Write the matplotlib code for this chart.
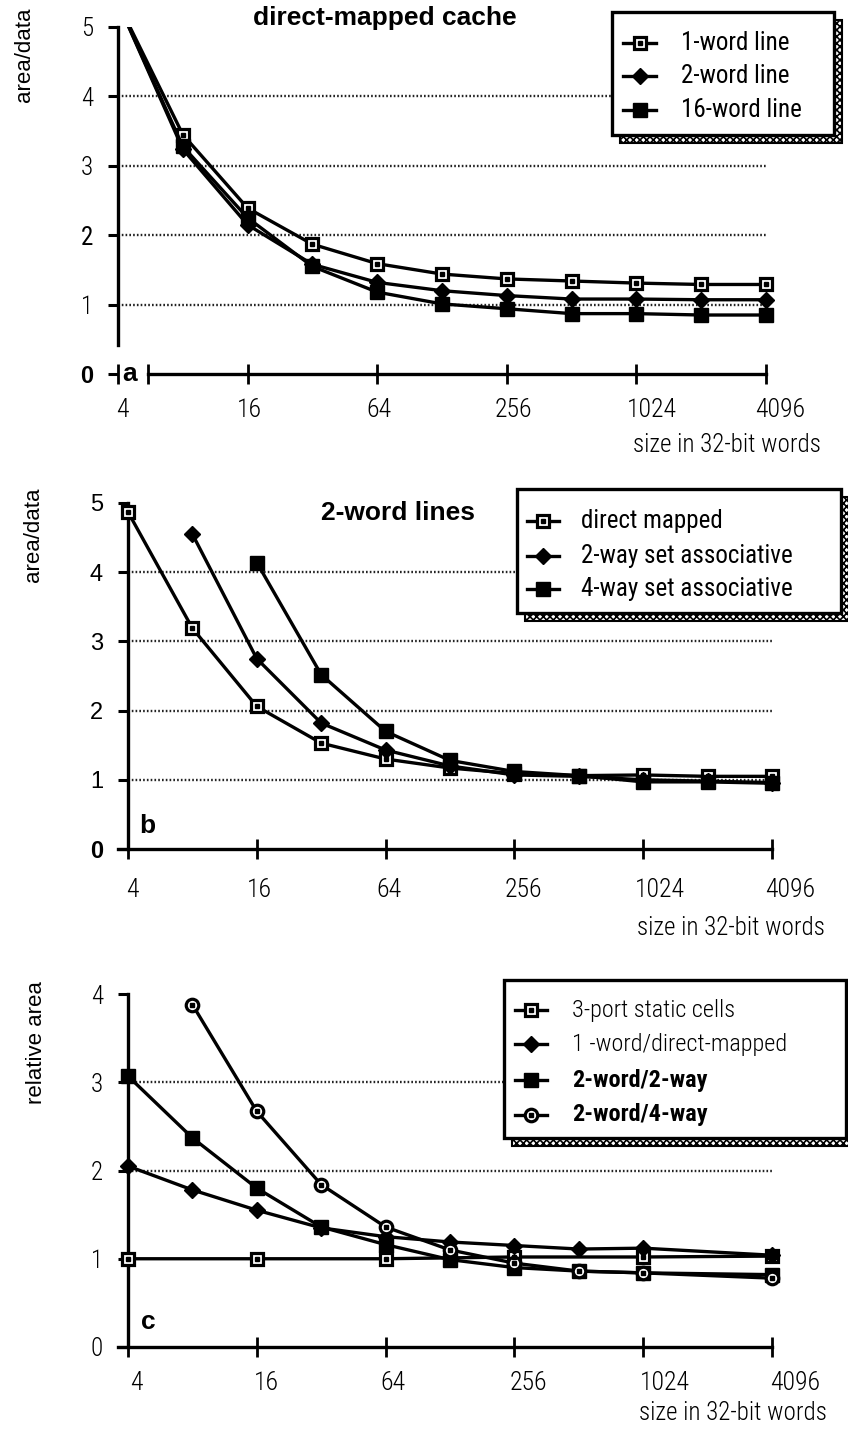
import matplotlib
matplotlib.use("Agg")
import matplotlib.pyplot as plt
from matplotlib.lines import Line2D
from matplotlib.patches import Rectangle

W, H = 848, 1433
plt.rcParams['hatch.linewidth'] = 1.2

SANS = ['Liberation Sans', 'DejaVu Sans']
COND = ['Roboto Condensed', 'Liberation Sans', 'DejaVu Sans']

# ---------------- data ----------------
x_ticks = [4, 16, 64, 256, 1024, 4096]
x_tick_labels = ['4', '16', '64', '256', '1024', '4096']

# panel a: direct-mapped cache
a_x = [4, 8, 16, 32, 64, 128, 256, 512, 1024, 2048, 4096]
a_1word = [5.35, 3.45, 2.39, 1.87, 1.59, 1.44, 1.37, 1.34, 1.31, 1.29, 1.29]
a_2word = [5.35, 3.24, 2.15, 1.58, 1.32, 1.20, 1.13, 1.08, 1.08, 1.07, 1.07]
a_16word = [5.35, 3.28, 2.25, 1.55, 1.18, 1.01, 0.94, 0.87, 0.87, 0.85, 0.85]
a_labels = ['1-word line', '2-word line', '16-word line']

# panel b: 2-word lines
b_dm_x = [4, 8, 16, 32, 64, 128, 256, 512, 1024, 2048, 4096]
b_dm = [4.87, 3.19, 2.06, 1.53, 1.30, 1.17, 1.09, 1.06, 1.07, 1.05, 1.05]
b_2w_x = [8, 16, 32, 64, 128, 256, 512, 1024, 2048, 4096]
b_2w = [4.55, 2.75, 1.82, 1.43, 1.20, 1.07, 1.05, 1.00, 0.98, 0.96]
b_4w_x = [16, 32, 64, 128, 256, 512, 1024, 2048, 4096]
b_4w = [4.14, 2.52, 1.70, 1.28, 1.12, 1.06, 0.97, 0.97, 0.95]
b_labels = ['direct mapped', '2-way set associative', '4-way set associative']

# panel c: relative area
c_3p_x = [4, 16, 64, 256, 1024, 4096]
c_3p = [1.00, 1.00, 1.00, 1.02, 1.02, 1.03]
c_1dm_x = [4, 8, 16, 32, 64, 128, 256, 512, 1024, 4096]
c_1dm = [2.05, 1.78, 1.55, 1.35, 1.25, 1.19, 1.15, 1.11, 1.12, 1.04]
c_22_x = [4, 8, 16, 32, 64, 128, 256, 512, 1024, 4096]
c_22 = [3.07, 2.37, 1.80, 1.36, 1.16, 0.99, 0.90, 0.86, 0.84, 0.82]
c_24_x = [8, 16, 32, 64, 128, 256, 512, 1024, 4096]
c_24 = [3.88, 2.67, 1.84, 1.36, 1.10, 0.95, 0.86, 0.84, 0.78]
c_labels = ['3-port static cells', '1 -word/direct-mapped', '2-word/2-way', '2-word/4-way']

# ---------------- styles ----------------
LW = 2.4
OPEN_SQ = dict(marker='s', markersize=9, markerfacecolor='white', markeredgecolor='black', markeredgewidth=2.3)
DIAMOND = dict(marker='D', markersize=8.5, markerfacecolor='black', markeredgecolor='black')
FILL_SQ = dict(marker='s', markersize=10.5, markerfacecolor='black', markeredgecolor='black')
OPEN_CI = dict(marker='o', markersize=9, markerfacecolor='white', markeredgecolor='black', markeredgewidth=2.3)
DOT = dict(marker='s', markersize=2.2, markerfacecolor='black', markeredgecolor='black', linestyle='none')

fig = plt.figure(figsize=(W / 100, H / 100), dpi=100)


def make_ax(px4, px4096, py0, pytop, ytop, xlab_dy, xlab_dx, xpad=0.35, ylo=0.35, yhi=0.3):
    b = (px4096 - px4) / 10.0
    left = px4 - b * xpad
    right = px4096 + b * xpad
    c = (py0 - pytop) / ytop
    bot = py0 + c * ylo
    top = pytop - c * yhi
    ax = fig.add_axes([left / W, 1 - bot / H, (right - left) / W, (bot - top) / H])
    ax.set_xscale('log', base=2)
    ax.set_xlim(2 ** (2 - xpad), 2 ** (12 + xpad))
    ax.set_ylim(-ylo, ytop + yhi)
    ax.patch.set_visible(False)
    for s in ['top', 'right']:
        ax.spines[s].set_visible(False)
    ax.spines['left'].set_position(('data', 4))
    ax.spines['bottom'].set_position(('data', 0))
    ax.spines['left'].set_linewidth(2.4)
    ax.spines['bottom'].set_linewidth(2.4)
    ax.set_xticks(x_ticks)
    ax.set_xticklabels([])
    ax.minorticks_off()
    ax.tick_params(axis='x', direction='inout', length=14, width=2)
    ax.tick_params(axis='y', direction='out', length=7, width=2.2, pad=11,
                   labelsize=18)
    for t, lab, dx in zip(x_ticks, x_tick_labels, xlab_dx):
        ax.annotate(lab, xy=(t, 0), xycoords='data', xytext=(dx, -xlab_dy),
                    textcoords='offset pixels', ha='center', va='center',
                    fontsize=18.5, family=COND, fontweight='light',
                    annotation_clip=False)
    return ax


def series(ax, x, y, style, dot=False, clip=True):
    ax.plot(x, y, color='black', lw=LW, clip_on=clip, zorder=3, **style)
    if dot:
        ax.plot(x, y, clip_on=clip, zorder=4, **DOT)


def grid(ax, levels):
    ax.hlines(levels, 4, 4096, colors='#222222', linewidth=1.7,
              linestyles=(0, (0.7, 0.9)), zorder=1)


def fx(px):
    return px / W


def fy(py):
    return 1 - py / H


def legend(x0, y0, x1, y1, hx0, hx1, tx, rows, styles, dots, labels, fonts, shadow=8):
    sh = Rectangle((fx(x0 + shadow), fy(y1 + shadow)), (x1 - x0) / W, (y1 - y0) / H,
                   transform=fig.transFigure, facecolor='white', edgecolor='black',
                   hatch='xxxxx', lw=1.5, zorder=5)
    fig.add_artist(sh)
    box = Rectangle((fx(x0), fy(y1)), (x1 - x0) / W, (y1 - y0) / H,
                    transform=fig.transFigure, facecolor='white', edgecolor='black',
                    lw=2.4, zorder=6)
    fig.add_artist(box)
    for r, st, d, lab, fnt in zip(rows, styles, dots, labels, fonts):
        mid = (hx0 + hx1) / 2
        ln = Line2D([fx(hx0), fx(mid), fx(hx1)], [fy(r)] * 3, transform=fig.transFigure,
                    color='black', lw=2.4, markevery=[1], zorder=7, **st)
        fig.add_artist(ln)
        if d:
            dl = Line2D([fx(mid)], [fy(r)], transform=fig.transFigure, zorder=8, **DOT)
            fig.add_artist(dl)
        fig.text(fx(tx), fy(r), lab, ha='left', va='center', fontsize=fnt[0],
                 family=COND, fontweight=fnt[1], zorder=9)


def xlabel(px_right, py):
    fig.text(fx(px_right), fy(py), 'size in 32-bit words', ha='right', va='center',
             fontsize=18, family=COND, fontweight='light')


# ---------------- panel a ----------------
axa = make_ax(118, 766, 374, 27, 5, 36, [4, 2, 2, 7, 15, 14], yhi=0.0)
grid(axa, [1, 2, 3, 4])
axa.spines['left'].set_bounds(0.42, 5)
axa.spines['bottom'].set_bounds(5.5, 4096)
axa.vlines(5.5, -0.14, 0.14, colors='black', lw=2, clip_on=False)
series(axa, a_x, a_1word, OPEN_SQ, dot=True)
series(axa, a_x, a_2word, DIAMOND)
series(axa, a_x, a_16word, FILL_SQ)
axa.set_yticks([0, 1, 2, 3, 4, 5])
axa.set_yticklabels(['0', '1', '2', '3', '4', '5'])
for i, t in enumerate(axa.get_yticklabels()):
    t.set_family(COND)
    t.set_fontweight('light')
    if i == 0:
        t.set_family(SANS)
        t.set_fontweight('bold')
        t.set_fontsize(17)
    if i == 2:
        t.set_fontweight('normal')
axa.text(4.55, 0, 'a', ha='center', va='center', fontsize=19, fontweight='bold',
         family=SANS, zorder=5)
fig.text(fx(385), fy(18), 'direct-mapped cache', ha='center', va='center',
         fontsize=19, fontweight='bold', family=SANS)
fig.text(fx(25), fy(55), 'area/data', rotation=90, ha='center', va='center',
         fontsize=16, family=SANS)
xlabel(821, 445)
legend(612, 12, 834, 135, 623, 656, 681, [43, 76, 110],
       [OPEN_SQ, DIAMOND, FILL_SQ], [True, False, False], a_labels,
       [(18, 'normal')] * 3)

# ---------------- panel b ----------------
axb = make_ax(128, 772, 849, 503, 5, 41, [4, 3, 3, 9, 17, 18])
grid(axb, [1, 2, 3, 4])
axb.spines['left'].set_bounds(0, 5)
axb.spines['bottom'].set_bounds(3.6, 4096)
series(axb, b_dm_x, b_dm, OPEN_SQ, dot=True, clip=False)
series(axb, b_2w_x, b_2w, DIAMOND, clip=False)
series(axb, b_4w_x, b_4w, FILL_SQ, clip=False)
axb.set_yticks([0, 1, 2, 3, 4, 5])
axb.set_yticklabels(['0', '1', '2', '3', '4', '5'])
for t in axb.get_yticklabels():
    t.set_family(SANS)
    t.set_fontsize(17)
axb.get_yticklabels()[0].set_fontweight('bold')
axb.text(4.9, 0.33, 'b', ha='center', va='center', fontsize=19, fontweight='bold',
         family=SANS)
fig.text(fx(398), fy(513), '2-word lines', ha='center', va='center',
         fontsize=19, fontweight='bold', family=SANS)
fig.text(fx(33), fy(535), 'area/data', rotation=90, ha='center', va='center',
         fontsize=16, family=SANS)
xlabel(825, 928)
legend(517, 489, 841, 613, 527, 559, 581, [521, 556, 589],
       [OPEN_SQ, DIAMOND, FILL_SQ], [True, False, False], b_labels,
       [(18, 'normal')] * 3)

# ---------------- panel c ----------------
axc = make_ax(128, 772, 1347, 994, 4, 36, [8, 10, 7, 14, 22, 23])
grid(axc, [2, 3])
axc.spines['left'].set_bounds(0, 4)
axc.spines['bottom'].set_bounds(3.6, 4096)
series(axc, c_3p_x, c_3p, OPEN_SQ, dot=True, clip=False)
series(axc, c_1dm_x, c_1dm, DIAMOND, clip=False)
series(axc, c_22_x, c_22, FILL_SQ, clip=False)
series(axc, c_24_x, c_24, OPEN_CI, dot=True, clip=False)
axc.set_yticks([0, 1, 2, 3, 4])
axc.set_yticklabels(['0', '1', '2', '3', '4'])
for t in axc.get_yticklabels():
    t.set_family(COND)
    t.set_fontweight('light')
axc.text(5.0, 0.28, 'c', ha='center', va='center', fontsize=19, fontweight='bold',
         family=SANS)
fig.text(fx(37), fy(1043), 'relative area', rotation=90, ha='center', va='center',
         fontsize=16, family=SANS)
xlabel(827, 1413)
legend(504, 980, 846, 1138, 515, 547, 572, [1010, 1044, 1080, 1115],
       [OPEN_SQ, DIAMOND, FILL_SQ, OPEN_CI], [True, False, False, True], c_labels,
       [(17.5, 'light'), (17.5, 'light'), (17.5, 'bold'), (17.5, 'bold')])

fig.savefig('out.png', dpi=100)
